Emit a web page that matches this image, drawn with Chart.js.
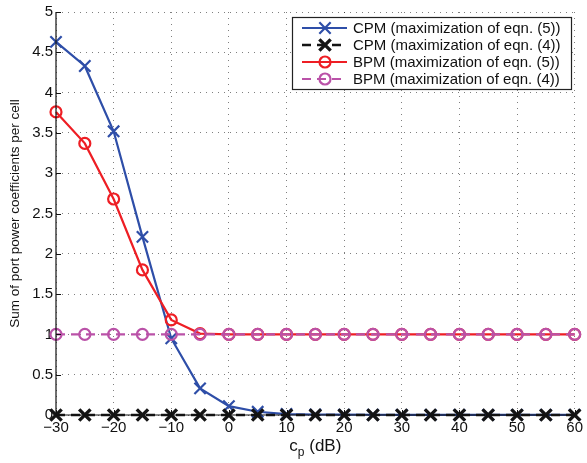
<!DOCTYPE html>
<html><head><meta charset="utf-8">
<script src="https://cdn.jsdelivr.net/npm/chart.js@4.4.1/dist/chart.umd.min.js"></script>
<style>html,body{margin:0;padding:0;background:#fff;}#wrap{width:587px;height:463px;}</style>
</head><body><div id="wrap"><canvas id="c" width="587" height="463"></canvas></div>
<script>
const cpValues = [-30,-25,-20,-15,-10,-5,0,5,10,15,20,25,30,35,40,45,50,55,60];
const cpmEqn5 = [4.63,4.33,3.52,2.21,0.95,0.33,0.11,0.04,0.012,0.006,0.004,0.003,0.002,0.002,0.002,0.002,0.002,0.002,0.002];
const cpmEqn4 = [0,0,0,0,0,0,0,0,0,0,0,0,0,0,0,0,0,0,0];
const bpmEqn5 = [3.76,3.37,2.68,1.80,1.18,1.01,1.0,1.0,1.0,1.0,1.0,1.0,1.0,1.0,1.0,1.0,1.0,1.0,1.0];
const bpmEqn4 = [1,1,1,1,1,1,1,1,1,1,1,1,1,1,1,1,1,1,1];
const seriesNames = ['CPM (maximization of eqn. (5))','CPM (maximization of eqn. (4))','BPM (maximization of eqn. (5))','BPM (maximization of eqn. (4))'];
const xTicks = [-30,-20,-10,0,10,20,30,40,50,60];
const yTicks = [0,0.5,1,1.5,2,2.5,3,3.5,4,4.5,5];

const BLUE='rgb(46,78,168)', RED='rgb(238,30,36)', BLACK='rgb(20,20,20)', MAG='rgb(186,82,168)';
const pts = arr => cpValues.map((x,i)=>({x:x,y:arr[i]}));
const FONT = '"Liberation Sans", Arial, Helvetica, sans-serif';

const datasets = [
 {label:seriesNames[0], data:pts(cpmEqn5), borderColor:BLUE, backgroundColor:'transparent', borderWidth:2.2, pointStyle:'crossRot', pointRadius:8, pointBorderWidth:2.2, pointBorderColor:BLUE, order:4},
 {label:seriesNames[1], data:pts(cpmEqn4), borderColor:BLACK, backgroundColor:'transparent', borderWidth:2.4, borderDash:[9,6], pointStyle:'crossRot', pointRadius:8, pointBorderWidth:3.4, pointBorderColor:BLACK, order:3},
 {label:seriesNames[2], data:pts(bpmEqn5), borderColor:RED, backgroundColor:'transparent', borderWidth:2.2, pointStyle:'circle', pointRadius:5.5, pointBorderWidth:2.2, pointBorderColor:RED, pointBackgroundColor:'rgba(0,0,0,0)', order:2},
 {label:seriesNames[3], data:pts(bpmEqn4), borderColor:MAG, backgroundColor:'transparent', borderWidth:2.2, borderDash:[9,6], pointStyle:'circle', pointRadius:5.5, pointBorderWidth:2.2, pointBorderColor:MAG, pointBackgroundColor:'rgba(0,0,0,0)', order:1}
];
datasets.forEach(d=>{d.tension=0; d.clip=false; d.pointHoverRadius=d.pointRadius;});

const legendPlugin = {
 id:'boxLegend',
 afterDraw(chart){
  const ctx=chart.ctx, ca=chart.chartArea;
  const x0=292, y0=17, w=279, h=72;
  ctx.save();
  ctx.fillStyle='#fff'; ctx.fillRect(x0,y0,w,h);
  ctx.strokeStyle='#222'; ctx.lineWidth=1.2; ctx.setLineDash([]);
  ctx.strokeRect(x0+0.5,y0+0.5,w,h);
  ctx.font='15px '+FONT; ctx.textBaseline='middle'; ctx.textAlign='left';
  const rows=[28,45,62,79];
  datasets.forEach((d,i)=>{
    const y=rows[i];
    ctx.strokeStyle=d.borderColor; ctx.lineWidth=d.borderWidth;
    ctx.setLineDash(d.borderDash||[]);
    ctx.beginPath(); ctx.moveTo(302,y); ctx.lineTo(347,y); ctx.stroke();
    ctx.setLineDash([]);
    ctx.fillStyle='rgba(0,0,0,0)'; ctx.strokeStyle=d.borderColor; ctx.lineWidth=d.pointBorderWidth;
    Chart.helpers.drawPoint(ctx,{pointStyle:d.pointStyle,rotation:0,radius:d.pointRadius,borderWidth:d.pointBorderWidth},325,y);
    ctx.fillStyle='#111';
    ctx.fillText(d.label,353,y+1);
  });
  // x axis title with subscript
  ctx.fillStyle='#111'; ctx.textBaseline='alphabetic';
  const cx=(ca.left+ca.right)/2;
  ctx.font='17px '+FONT;
  const wc=ctx.measureText('c').width;
  ctx.font='12px '+FONT;
  const wp=ctx.measureText('p').width;
  ctx.font='17px '+FONT;
  const wr=ctx.measureText(' (dB)').width;
  let sx=cx-(wc+wp+wr)/2;
  const by=451;
  ctx.fillText('c',sx,by); sx+=wc;
  ctx.font='12px '+FONT; ctx.fillText('p',sx,by+5); sx+=wp;
  ctx.font='17px '+FONT; ctx.fillText(' (dB)',sx,by);
  // axes (solid) and inward ticks
  ctx.strokeStyle='#111'; ctx.lineWidth=1.2; ctx.setLineDash([]);
  ctx.beginPath(); ctx.moveTo(ca.left,ca.top); ctx.lineTo(ca.left,ca.bottom); ctx.lineTo(ca.right,ca.bottom); ctx.stroke();
  ctx.lineWidth=1;
  const xs=chart.scales.x, ys=chart.scales.y;
  xTicks.forEach(t=>{const px=Math.round(xs.getPixelForValue(t))+0.5; ctx.beginPath(); ctx.moveTo(px,ca.bottom); ctx.lineTo(px,ca.bottom-5); ctx.stroke();});
  yTicks.forEach(t=>{const py=Math.round(ys.getPixelForValue(t))+0.5; ctx.beginPath(); ctx.moveTo(ca.left,py); ctx.lineTo(ca.left+5,py); ctx.stroke();});
  ctx.restore();
 }
};

new Chart(document.getElementById('c'),{
 type:'line',
 data:{datasets:datasets},
 plugins:[legendPlugin],
 options:{
  responsive:false, animation:false, devicePixelRatio:1,
  layout:{padding:{top:11,right:12,left:0,bottom:0}},
  plugins:{legend:{display:false}, tooltip:{enabled:false}},
  scales:{
   x:{type:'linear', min:-30, max:60,
      afterBuildTicks(s){s.ticks=xTicks.map(v=>({value:v}));},
      afterFit(s){s.height=48;},
      ticks:{color:'#111', font:{family:FONT,size:15}, padding:4, maxRotation:0,
        callback:v=>String(v).replace('-','\u2212')},
      grid:{color:'rgba(0,0,0,0.5)', lineWidth:1, drawTicks:false, tickLength:0},
      border:{display:false, dash:[1,5]},
      title:{display:false}},
   y:{type:'linear', min:0, max:5,
      afterBuildTicks(s){s.ticks=yTicks.map(v=>({value:v}));},
      afterFit(s){s.width=56;},
      ticks:{color:'#111', font:{family:FONT,size:15}, padding:3, callback:v=>String(v)},
      grid:{color:'rgba(0,0,0,0.5)', lineWidth:1, drawTicks:false, tickLength:0},
      border:{display:false, dash:[1,5]},
      title:{display:true, text:'Sum of port power coefficients per cell', color:'#111', font:{family:FONT,size:13.5}, padding:{top:7,bottom:0}}}
  }
 }
});
</script>
</body></html>
